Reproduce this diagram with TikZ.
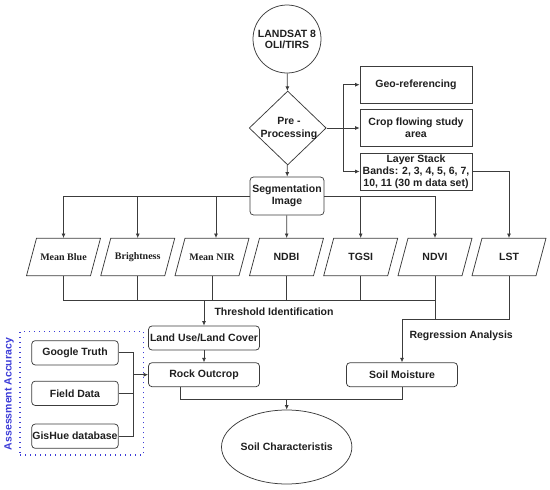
\documentclass[tikz,border=0pt]{standalone}
\usepackage{fontspec}
\setmainfont{Liberation Sans}
\newfontfamily\serifbold{Liberation Serif}
\usetikzlibrary{shapes.geometric,arrows.meta,calc}
\definecolor{accblue}{RGB}{60,60,215}
\definecolor{linegray}{RGB}{60,60,60}
\tikzset{
  txt/.style={font=\fontsize{10.5}{12}\selectfont\bfseries, text=black!88, align=center},
  box/.style={txt, draw=linegray, line width=0.75pt, inner sep=0pt},
  rbox/.style={box, rounded corners=3.5pt},
  pnode/.style={txt, inner sep=0pt, minimum width=64pt, minimum height=37.5pt},
  sfont/.style={font=\serifbold\fontsize{10}{11.5}\selectfont\bfseries},
  con/.style={draw=linegray, line width=0.75pt},
  arr/.style={con, -{Latex[length=4.5pt,width=4pt]}}
}
\begin{document}
\begin{tikzpicture}[x=1pt,y=-1pt]
\useasboundingbox (0,0) rectangle (550,490);
% top
\node[box, circle, minimum size=68pt, font=\fontsize{10.5}{11}\selectfont\bfseries] (land) at (287,39) {LANDSAT 8\\OLI/TIRS};
\node[box, diamond, minimum width=77pt, minimum height=74pt] (pre) at (287.7,128) {};
\node[txt, font=\fontsize{10.5}{12.5}\selectfont\bfseries] (pretxt) at (289,128.5) {Pre -\\Processing};
\node[box, minimum width=112pt, minimum height=37pt] (geo) at (416,84.7) {Geo-referencing};
\node[box, minimum width=112pt, minimum height=37pt] (crop) at (416,128) {Crop flowing study\\area};
\node[box, minimum width=112pt, minimum height=37pt] (layer) at (416,171.5) {Layer Stack\\Bands: 2, 3, 4, 5, 6, 7,\\10, 11 (30 m data set)};
\node[rbox, minimum width=74pt, minimum height=38pt] (seg) at (287,196) {Segmentation\\Image};
% parallelograms
\node[pnode, sfont] (mb) at (63.5,257) {Mean Blue};
\node[pnode, sfont] (br) at (137.75,257) {Brightness};
\node[pnode, sfont] (nir) at (212,257) {Mean NIR};
\node[pnode] (ndbi) at (286.5,257) {NDBI};
\node[pnode] (tgsi) at (360.7,257) {TGSI};
\node[pnode] (ndvi) at (435,257) {NDVI};
\node[pnode] (lst) at (509,257) {LST};
\foreach \n in {mb,br,nir,ndbi,tgsi,ndvi,lst}
  \draw[con] ([shift={(-27,-18.75)}]\n.center) -- ([shift={(37,-18.75)}]\n.center)
    -- ([shift={(27,18.75)}]\n.center) -- ([shift={(-37,18.75)}]\n.center) -- cycle;
% lower boxes
\node[rbox, minimum width=111pt, minimum height=24pt] (landuse) at (204,338) {Land Use/Land Cover};
\node[rbox, minimum width=111pt, minimum height=24pt] (rock) at (204,374.7) {Rock Outcrop};
\node[rbox, minimum width=111pt, minimum height=24pt] (soil) at (402,374.7) {Soil Moisture};
\node[rbox, minimum width=86.6pt, minimum height=24.3pt] (google) at (75,352.8) {Google Truth};
\node[rbox, minimum width=86.6pt, minimum height=24.3pt] (field) at (75,393.3) {Field Data};
\node[rbox, minimum width=86.6pt, minimum height=24.3pt] (gishue) at (75,436.2) {GisHue database};
\node[box, ellipse, minimum width=110pt, minimum height=74pt] (soilchar) at (286.7,447) {Soil Characteristis};
% assessment box
\node[draw=accblue, line width=1.2pt, dash pattern=on 1.3pt off 3.7pt, minimum width=123.3pt, minimum height=123.3pt, inner sep=0pt] (accbox) at (81.65,393.35) {};
\node[txt, text=accblue, rotate=90] (acclabel) at (9,394) {Assessment Accuracy};
% labels
\node[txt, anchor=west] (thrlabel) at (211,311.5) {Threshold Identification};
\node[txt, anchor=west] (reglabel) at (406,335.5) {Regression Analysis};
% coordinates
\coordinate (split) at (343,128);
\coordinate (thr) at (204,300.7);
\coordinate (reg) at (402,319.3);
\coordinate (acc) at (133.3,374.7);
\coordinate (join) at (286.7,399.3);
% connectors top
\draw[arr] (land) -- (pre);
\draw[arr] (pre) -- (seg);
\draw[arr] (pre.east) -- (crop.west);
\draw[arr] (split) |- (geo.west);
\draw[arr] (split) |- (layer.west);
\draw[arr] (layer.east) -| (lst.north);
% segmentation to parameters
\draw[arr] (seg.west) -| (mb.north);
\draw[arr] (br.north |- seg.west) -- (br.north);
\draw[arr] ([xshift=4pt]nir.north |- seg.west) -- ([xshift=4pt]nir.north);
\draw[arr] (seg) -- (ndbi);
\draw[arr] (seg.east) -| (ndvi.north);
\draw[arr] (tgsi.north |- seg.east) -- (tgsi.north);
% parameters down
\draw[con] (mb.south) -- (mb.south |- thr) -- (ndvi.south |- thr);
\foreach \n in {br,nir,ndbi,tgsi}
  \draw[con] (\n.south) -- (\n.south |- thr);
\draw[con] (ndvi.south) -- (ndvi.south |- reg);
\draw[arr] (lst.south) |- (reg) -- (soil.north);
\draw[arr] (thr) -- (landuse.north);
\draw[arr] (landuse) -- (rock);
% assessment
\draw[con] (google.east) -| (acc);
\draw[con] (gishue.east) -| (acc);
\draw[con] (field.east) -- (acc |- field.east);
\draw[arr] (acc) -- (rock.west);
% bottom
\draw[con] ([xshift=-24pt]rock.south) |- (join) -| (soil.south);
\draw[arr] (join) -- (soilchar.north);
\end{tikzpicture}
\end{document}
